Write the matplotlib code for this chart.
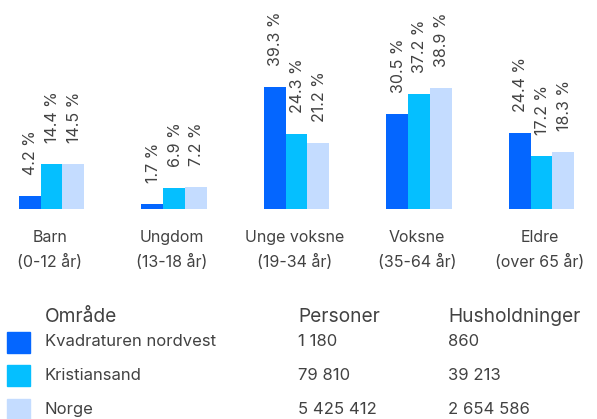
import matplotlib.pyplot as plt
from matplotlib.patches import Rectangle
import numpy as np

plt.rcParams['font.family'] = ['Inter', 'DejaVu Sans']

# data
categories = ["Barn\n(0-12 år)", "Ungdom\n(13-18 år)", "Unge voksne\n(19-34 år)",
              "Voksne\n(35-64 år)", "Eldre\n(over 65 år)"]
areas = ["Kvadraturen nordvest", "Kristiansand", "Norge"]
kvadraturen = [4.2, 1.7, 39.3, 30.5, 24.4]
kristiansand = [14.4, 6.9, 24.3, 37.2, 17.2]
norge = [14.5, 7.2, 21.2, 38.9, 18.3]
personer = ["1 180", "79 810", "5 425 412"]
husholdninger = ["860", "39 213", "2 654 586"]

colors = ["#0466FF", "#05BFFF", "#C4DCFF"]
txt = "#424242"

W, H = 597, 419
fig = plt.figure(figsize=(W / 100, H / 100), dpi=100)

# bar axes: baseline at y=209px, full width
ax = fig.add_axes([0, 1 - 209 / H, 1, 209 / H])
ax.set_ylim(0, 209 / 3.1)
ax.set_xlim(-51.5 / 122.5, (W - 51.5) / 122.5)
ax.axis("off")

x = np.arange(len(categories))
bw = 21.7 / 122.5
series = [kvadraturen, kristiansand, norge]
for i, vals in enumerate(series):
    xs = x + (i - 1) * bw
    ax.bar(xs, vals, width=bw, color=colors[i], edgecolor="none")
    for xi, v in zip(xs, vals):
        ax.annotate(f"{v:.1f} %", (xi, v), xytext=(1, 21),
                    textcoords="offset pixels", rotation=90, ha="center",
                    va="bottom", fontsize=11.5, color=txt)

for xi, lab in zip(x, categories):
    ax.text(xi - 0.015, -41 / 3.1, lab, ha="center", va="center", fontsize=11.5,
            color=txt, linespacing=1.65, clip_on=False)

# legend table
def fy(py):
    return 1 - py / H

cols = [45, 298, 448]
for cx, head in zip(cols, ["Område", "Personer", "Husholdninger"]):
    fig.text(cx / W, fy(317), head, fontsize=13.8, color=txt, va="center")
rows_y = [342, 375, 409]
for name, p, h, c, ry in zip(areas, personer, husholdninger, colors, rows_y):
    fig.patches.append(Rectangle((7 / W, fy(ry + 10.5)), 23 / W, 21 / H,
                                 transform=fig.transFigure, color=c))
    for cx, s in zip(cols, [name, p, h]):
        fig.text(cx / W, fy(ry), s, fontsize=12, color=txt, va="center")

fig.savefig("out.png", dpi=100)
